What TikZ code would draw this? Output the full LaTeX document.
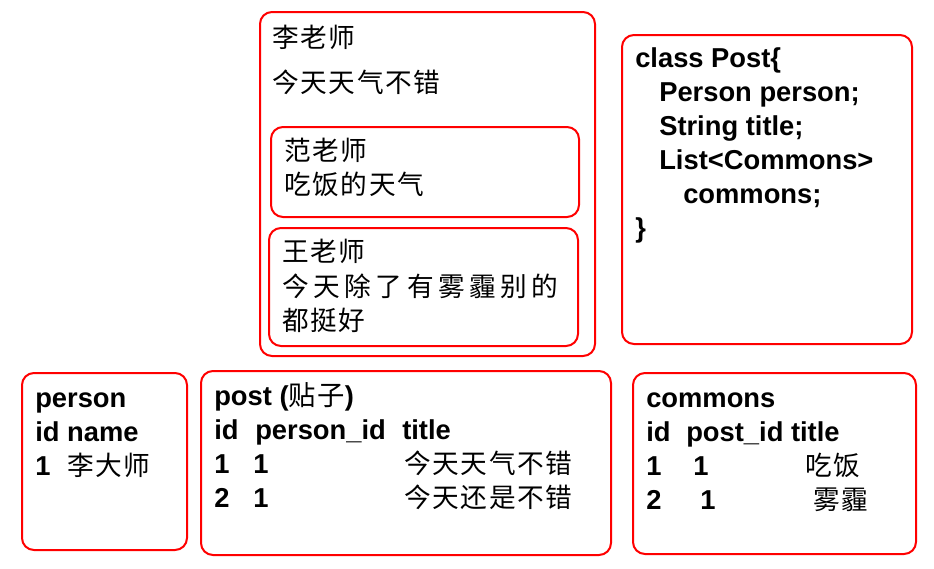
\documentclass[tikz,border=0pt]{standalone}
\usepackage{fontspec}
\setmainfont{Liberation Sans}
\newfontfamily\cjk[LetterSpace=6]{Noto Sans CJK SC}
\newfontfamily\cjkwide[LetterSpace=17]{Noto Sans CJK SC}
\tikzset{
  box/.style={draw=red,line width=1.5pt,rounded corners=9pt},
  txt/.style={anchor=base west,inner sep=0pt,font=\fontsize{20.5}{24}\selectfont\bfseries},
  zh/.style={anchor=base west,inner sep=0pt,font=\fontsize{20}{24}\selectfont\cjk}
}
\begin{document}
\begin{tikzpicture}[x=0.75pt,y=-0.75pt]
  \useasboundingbox (0,0) rectangle (934,568);
  \draw[box] (260,12) rectangle (595,356);
  \draw[box] (271,127) rectangle (579,217);
  \draw[box] (269,228) rectangle (578,346);
  \draw[box] (622,35) rectangle (912,344);
  \draw[box] (22,373) rectangle (187,550);
  \draw[box] (201,371) rectangle (611,555);
  \draw[box] (633,373) rectangle (916,554);
  \node[zh] (li) at (272,47) {李老师};
  \node[zh] (liPost) at (272,92) {今天天气不错};
  \node[zh] (fan) at (284,160) {范老师};
  \node[zh] (fanCmt) at (284,194) {吃饭的天气};
  \node[zh] (wang) at (282,261) {王老师};
  \node[zh,font=\fontsize{20}{24}\selectfont\cjkwide] (wangCmt) at (282,296) {今天除了有雾霾别的};
  \node[zh] (wangCmt2) at (282,330) {都挺好};
  \node[txt] (cls) at (635,67) {class Post\{};
  \node[txt] (clsPerson) at (659,101) {Person person;};
  \node[txt] (clsTitle) at (659,135) {String title;};
  \node[txt] (clsList) at (659,169) {List<Commons>};
  \node[txt] (clsCommons) at (683,203) {commons;};
  \node[txt] (clsEnd) at (635,237) {\}};
  \node[txt] (person) at (35,407) {person};
  \node[txt] (personHead) at (35,441) {id name};
  \node[txt] (personId) at (35,475) {1};
  \node[zh] (personName) at (67,475) {李大师};
  \node[txt] (post) at (214,405) {post ({\cjk\mdseries 贴子})};
  \node[txt] (postHead) at (214,439) {id};
  \node[txt] (postHeadPid) at (255,439) {person\_id};
  \node[txt] (postHeadTitle) at (402,439) {title};
  \node[txt] (postId1) at (214,473) {1};
  \node[txt] (postPid1) at (253,473) {1};
  \node[zh] (postTitle1) at (404,473) {今天天气不错};
  \node[txt] (postId2) at (214,507) {2};
  \node[txt] (postPid2) at (253,507) {1};
  \node[zh] (postTitle2) at (404,507) {今天还是不错};
  \node[txt] (cmt) at (646,407) {commons};
  \node[txt] (cmtHead) at (646,441) {id};
  \node[txt] (cmtHeadPid) at (686,441) {post\_id title};
  \node[txt] (cmtId1) at (646,475) {1};
  \node[txt] (cmtPid1) at (693,475) {1};
  \node[zh] (cmtTitle1) at (805,475) {吃饭};
  \node[txt] (cmtId2) at (646,509) {2};
  \node[txt] (cmtPid2) at (700,509) {1};
  \node[zh] (cmtTitle2) at (813,509) {雾霾};
\end{tikzpicture}
\end{document}
